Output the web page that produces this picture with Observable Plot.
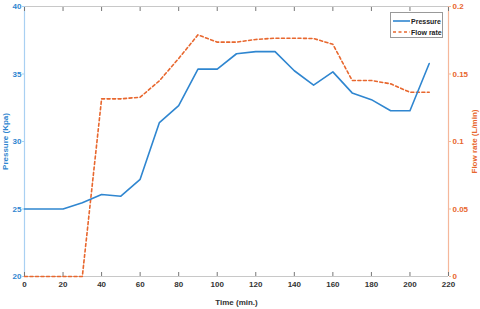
<!DOCTYPE html>
<html>
<head>
<meta charset="utf-8">
<script src="https://cdn.jsdelivr.net/npm/d3@7"></script>
<script src="https://cdn.jsdelivr.net/npm/@observablehq/plot@0.6"></script>
<style>
  html, body { margin: 0; padding: 0; background: #fff; }
  #wrap { position: relative; width: 480px; height: 309px; font-family: "Liberation Sans", Arial, sans-serif; }
  #legend { position: absolute; left: 390px; top: 12px; width: 53px; height: 26px; border: 1px solid #999; background: #fff;
    font: bold 7px "Liberation Sans", Arial, sans-serif; color: #222; box-sizing: border-box; white-space: nowrap; }
  #legend .row { position: absolute; left: 2px; display: flex; align-items: center; height: 8px; white-space: nowrap; }
  #legend svg { margin-right: 1px; flex: none; }
</style>
</head>
<body>
<div id="wrap">
  <div id="chart"></div>
  <div id="legend">
    <div class="row" style="top:4px"><svg width="17" height="4"><line x1="0" y1="2" x2="17" y2="2" stroke="#2f86d0" stroke-width="1.6"/></svg>Pressure</div>
    <div class="row" style="top:15px"><svg width="17" height="4"><line x1="0" y1="2" x2="17" y2="2" stroke="#e8672e" stroke-width="1.6" stroke-dasharray="3,2.5"/></svg>Flow rate</div>
  </div>
</div>
<script>
const time = [0,10,20,30,40,50,60,70,80,90,100,110,120,130,140,150,160,170,180,190,200,210];
const pressure = [25.0,25.0,25.0,25.46,26.07,25.95,27.2,31.4,32.65,35.36,35.36,36.5,36.66,36.66,35.24,34.18,35.16,33.6,33.1,32.28,32.28,35.78];
const flowRate = [0,0,0,0,0.1316,0.1316,0.1328,0.145,0.1615,0.179,0.1736,0.1736,0.1756,0.1765,0.1765,0.1763,0.172,0.1452,0.1452,0.1427,0.1365,0.1365];
const xTicks = [0,20,40,60,80,100,120,140,160,180,200,220];
const pTicks = [20,25,30,35,40];
const fTicks = [0,0.05,0.1,0.15,0.2];

// map flow rate (0..0.2) onto the pressure scale (20..40)
const toP = f => 20 + f * 100;
const pData = time.map((t, i) => ({t, v: pressure[i]}));
const fData = time.map((t, i) => ({t, v: toP(flowRate[i])}));

const blue = "#2f86d0", orange = "#e8672e";
const chart = Plot.plot({
  width: 480, height: 309,
  marginLeft: 24, marginRight: 32, marginTop: 6, marginBottom: 33,
  style: {fontFamily: "'Liberation Sans', Arial, sans-serif", fontSize: "8px", fontWeight: "bold"},
  x: {domain: [0, 220]},
  y: {domain: [20, 40]},
  marks: [
    Plot.ruleY([40], {stroke: "#c8c8c8", strokeWidth: 1.2}),
    Plot.ruleY([20], {stroke: "#c8c8c8", strokeWidth: 1.2}),
    Plot.ruleX([0], {stroke: "#a9d0f2", strokeWidth: 1.2}),
    Plot.ruleX([220], {stroke: "#f5b79b", strokeWidth: 1.2}),
    Plot.axisX({ticks: xTicks, tickSize: -4, tickPadding: 9, stroke: "#777", fill: "#333",
      label: "Time (min.)", labelAnchor: "center", labelArrow: "none", labelOffset: 28}),
    Plot.axisX({anchor: "top", ticks: xTicks, tickSize: -4, tickFormat: () => "", stroke: "#777", label: null}),
    Plot.axisY({ticks: pTicks, tickSize: 2, tickPadding: 1, stroke: "#a9d0f2", fill: blue,
      label: "Pressure (Kpa)", labelAnchor: "center", labelArrow: "none", labelOffset: 22}),
    Plot.axisY({anchor: "right", ticks: fTicks.map(toP), tickSize: 2, tickPadding: 2, stroke: "#f5b79b", fill: orange,
      tickFormat: d => String(+((d - 20) / 100).toFixed(2)),
      label: "Flow rate (L/min)", labelAnchor: "center", labelArrow: "none", labelOffset: 28}),
    Plot.line(fData, {x: "t", y: "v", stroke: orange, strokeWidth: 1.6, strokeDasharray: "3,2.5"}),
    Plot.line(pData, {x: "t", y: "v", stroke: blue, strokeWidth: 1.6})
  ]
});
document.getElementById("chart").appendChild(chart);
</script>
</body>
</html>
